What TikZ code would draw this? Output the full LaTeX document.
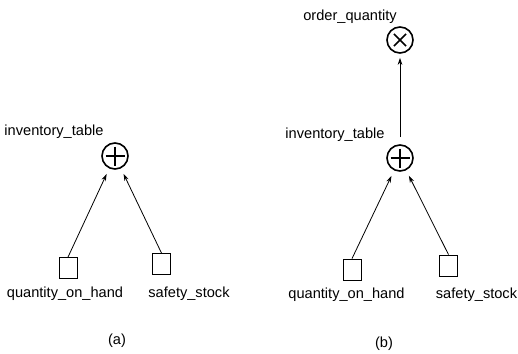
\documentclass[tikz,border=0pt]{standalone}
\usepackage{fontspec}
\setmainfont{Liberation Sans}
\usepackage{tikz}
\usetikzlibrary{arrows.meta,positioning}

\begin{document}
\begin{tikzpicture}[
    x=1pt, y=-1pt,
    opnode/.style={circle, draw, line width=1.6pt, minimum size=26pt, inner sep=0pt},
    sumnode/.style={opnode, path picture={
        \draw[line width=2.8pt] ([xshift=3.5pt]path picture bounding box.west) -- ([xshift=-3.5pt]path picture bounding box.east)
                                ([yshift=-3.5pt]path picture bounding box.north) -- ([yshift=3.5pt]path picture bounding box.south);}},
    prodnode/.style={opnode, path picture={
        \draw[line width=1.6pt] ([shift={(45:8.5pt)}]path picture bounding box.center) -- ([shift={(225:8.5pt)}]path picture bounding box.center)
                                ([shift={(135:8.5pt)}]path picture bounding box.center) -- ([shift={(315:8.5pt)}]path picture bounding box.center);}},
    srcbox/.style={rectangle, draw, line width=0.8pt, minimum width=18pt, minimum height=21pt, inner sep=0pt},
    lbl/.style={font=\fontsize{14.6}{16}\selectfont, inner sep=0pt},
    flow/.style={-{Stealth[length=7pt,width=4.5pt]}, line width=0.8pt, shorten >=6pt},
  ]
    \useasboundingbox (0,0) rectangle (518,353);

    % (a) sum node only
    \node[sumnode] (sumA) at (115,156) {};
    \node[lbl] (invA) at (54,132) {inventory\_table};
    \node[srcbox] (qtyA) at (68,268) {};
    \node[srcbox] (safeA) at (161.5,264) {};
    \node[lbl] (qtyLA) at (65,294) {quantity\_on\_hand};
    \node[lbl] (safeLA) at (189,294) {safety\_stock};
    \draw[flow] (qtyA.north) -- (sumA);
    \draw[flow] (safeA.north) -- (sumA);
    \node[lbl] (capA) at (117,341) {(a)};

    % (b) sum node feeding a product node
    \node[prodnode] (prodB) at (400,40) {};
    \node[lbl] (ordB) at (350,17) {order\_quantity};
    \node[sumnode] (sumB) at (400,158) {};
    \node[lbl] (invB) at (335,135) {inventory\_table};
    \node[srcbox] (qtyB) at (352,269.5) {};
    \node[srcbox] (safeB) at (448.5,265.5) {};
    \node[lbl] (qtyLB) at (346.5,295) {quantity\_on\_hand};
    \node[lbl] (safeLB) at (476.5,295) {safety\_stock};
    \draw[flow] (qtyB.north) -- (sumB);
    \draw[flow] (safeB.north) -- (sumB);
    \draw[flow, shorten <=7pt, shorten >=4pt] (sumB) -- (prodB);
    \node[lbl] (capB) at (384,344) {(b)};
  \end{tikzpicture}
\end{document}
